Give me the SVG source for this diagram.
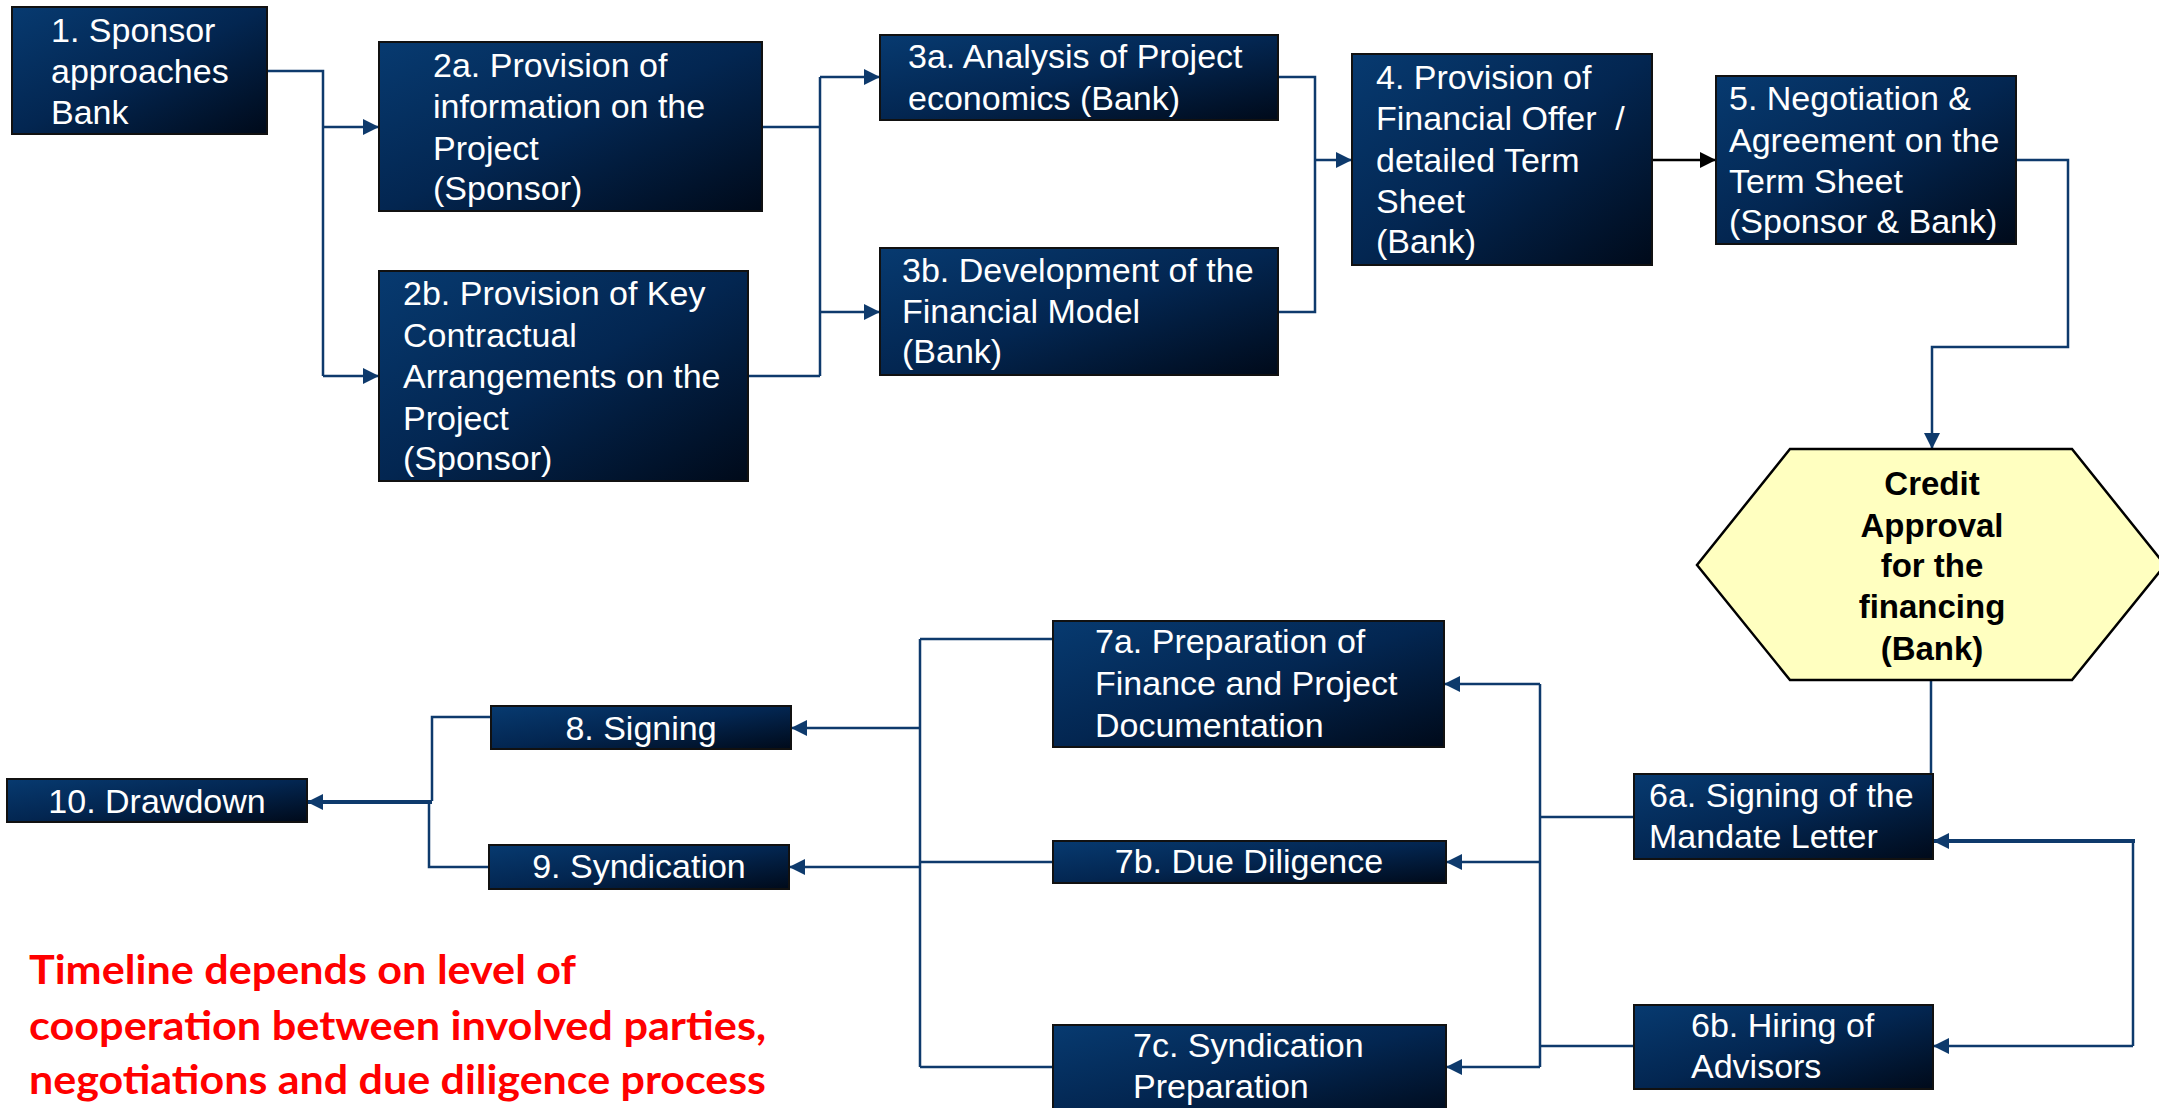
<svg xmlns="http://www.w3.org/2000/svg" width="2159" height="1108" viewBox="0 0 2159 1108">
<style>
.box{fill:url(#g);stroke:#111;stroke-width:2}
.t{font-family:"Liberation Sans",Arial,sans-serif;font-size:34px;fill:#fff;white-space:pre}
.c{text-anchor:middle}
.h{font-family:"Liberation Sans",Arial,sans-serif;font-size:33px;font-weight:bold;fill:#000;text-anchor:middle}
.ln{fill:none;stroke:#0e3a6c;stroke-width:2.5}
.thk{stroke-width:4}
.blk{fill:none;stroke:#000;stroke-width:2.5}
.red{font-family:Lato,"Open Sans",sans-serif;font-size:41px;font-weight:bold;fill:#f00}
</style>
<defs>
<linearGradient id="g" x1="0" y1="0" x2="1" y2="1">
<stop offset="0" stop-color="#073a70"/>
<stop offset="0.5" stop-color="#032651"/>
<stop offset="1" stop-color="#000a1a"/>
</linearGradient>
<marker id="a" markerUnits="userSpaceOnUse" markerWidth="18" markerHeight="18" refX="16" refY="8" orient="auto">
<path d="M0,0 L16,8 L0,16 z" fill="#0e3a6c"/>
</marker>
<marker id="ab" markerUnits="userSpaceOnUse" markerWidth="18" markerHeight="18" refX="16" refY="8" orient="auto">
<path d="M0,0 L16,8 L0,16 z" fill="#000"/>
</marker>
</defs>
<rect width="2159" height="1108" fill="#fff"/>
<g id="connectors">
<path class="ln" d="M267,71 H323 V376"/>
<path class="ln" d="M323,127 H379" marker-end="url(#a)"/>
<path class="ln" d="M323,376 H379" marker-end="url(#a)"/>
<path class="ln" d="M762,127 H820 M748,376 H820 M820,77 V376"/>
<path class="ln" d="M820,77 H880" marker-end="url(#a)"/>
<path class="ln" d="M820,312 H880" marker-end="url(#a)"/>
<path class="ln" d="M1278,77 H1315 V312 H1278"/>
<path class="ln" d="M1315,160 H1352" marker-end="url(#a)"/>
<path class="blk" d="M1652,160 H1716" marker-end="url(#ab)"/>
<path class="ln" d="M2016,160 H2068 V347 H1932 V449" marker-end="url(#a)"/>
<path class="ln" d="M1931,680 V774"/>
<path class="ln" d="M1634,817 H1540 M1634,1046 H1540 M1540,684 V1067"/>
<path class="ln" d="M1540,684 H1444" marker-end="url(#a)"/>
<path class="ln" d="M1540,862 H1446" marker-end="url(#a)"/>
<path class="ln" d="M1540,1067 H1446" marker-end="url(#a)"/>
<path class="ln" d="M2133,841 V1046"/>
<path class="ln thk" d="M2135,841 H1933" marker-end="url(#a)"/>
<path class="ln" d="M2133,1046 H1933" marker-end="url(#a)"/>
<path class="ln" d="M1053,639 H920 M1053,862 H920 M1053,1067 H920 M920,639 V1067"/>
<path class="ln" d="M920,728 H791" marker-end="url(#a)"/>
<path class="ln" d="M920,867 H789" marker-end="url(#a)"/>
<path class="ln" d="M491,717 H432 V801 M489,867 H429 V801"/>
<path class="ln thk" d="M432,802 H307" marker-end="url(#a)"/>
</g>
<g id="n1"><rect class="box" x="12" y="7" width="255" height="127"/>
<text class="t" x="51" y="42">1. Sponsor</text><text class="t" x="51" y="83">approaches</text><text class="t" x="51" y="124">Bank</text></g>
<g id="n2a"><rect class="box" x="379" y="42" width="383" height="169"/>
<text class="t" x="433" y="77">2a. Provision of</text><text class="t" x="433" y="118">information on the</text><text class="t" x="433" y="160">Project</text><text class="t" x="433" y="200">(Sponsor)</text></g>
<g id="n2b"><rect class="box" x="379" y="271" width="369" height="210"/>
<text class="t" x="403" y="305">2b. Provision of Key</text><text class="t" x="403" y="347">Contractual</text><text class="t" x="403" y="388">Arrangements on the</text><text class="t" x="403" y="430">Project</text><text class="t" x="403" y="470">(Sponsor)</text></g>
<g id="n3a"><rect class="box" x="880" y="35" width="398" height="85"/>
<text class="t" x="908" y="68">3a. Analysis of Project</text><text class="t" x="908" y="110">economics (Bank)</text></g>
<g id="n3b"><rect class="box" x="880" y="248" width="398" height="127"/>
<text class="t" x="902" y="282">3b. Development of the</text><text class="t" x="902" y="323">Financial Model</text><text class="t" x="902" y="363">(Bank)</text></g>
<g id="n4"><rect class="box" x="1352" y="54" width="300" height="211"/>
<text class="t" x="1376" y="89">4. Provision of</text><text class="t" x="1376" y="130">Financial Offer  /</text><text class="t" x="1376" y="172">detailed Term</text><text class="t" x="1376" y="213">Sheet</text><text class="t" x="1376" y="253">(Bank)</text></g>
<g id="n5"><rect class="box" x="1716" y="76" width="300" height="168"/>
<text class="t" x="1729" y="110">5. Negotiation &amp;</text><text class="t" x="1729" y="152">Agreement on the</text><text class="t" x="1729" y="193">Term Sheet</text><text class="t" x="1729" y="233">(Sponsor &amp; Bank)</text></g>
<g id="credit"><polygon points="1790,449 2072,449 2165,565 2072,680 1790,680 1697,565" fill="#ffffc0" stroke="#000" stroke-width="2.5"/>
<text class="h" x="1932" y="495">Credit</text><text class="h" x="1932" y="537">Approval</text><text class="h" x="1932" y="577">for the</text><text class="h" x="1932" y="618">financing</text><text class="h" x="1932" y="660">(Bank)</text></g>
<g id="n6a"><rect class="box" x="1634" y="774" width="299" height="85"/>
<text class="t" x="1649" y="807">6a. Signing of the</text><text class="t" x="1649" y="848">Mandate Letter</text></g>
<g id="n6b"><rect class="box" x="1634" y="1005" width="299" height="84"/>
<text class="t" x="1691" y="1037">6b. Hiring of</text><text class="t" x="1691" y="1078">Advisors</text></g>
<g id="n7a"><rect class="box" x="1053" y="621" width="391" height="126"/>
<text class="t" x="1095" y="653">7a. Preparation of</text><text class="t" x="1095" y="695">Finance and Project</text><text class="t" x="1095" y="737">Documentation</text></g>
<g id="n7b"><rect class="box" x="1053" y="841" width="393" height="42"/>
<text class="t c" x="1249" y="873">7b. Due Diligence</text></g>
<g id="n7c"><rect class="box" x="1053" y="1025" width="393" height="95"/>
<text class="t" x="1133" y="1057">7c. Syndication</text><text class="t" x="1133" y="1098">Preparation</text></g>
<g id="n8"><rect class="box" x="491" y="706" width="300" height="43"/>
<text class="t c" x="641" y="740">8. Signing</text></g>
<g id="n9"><rect class="box" x="489" y="845" width="300" height="44"/>
<text class="t c" x="639" y="878">9. Syndication</text></g>
<g id="n10"><rect class="box" x="7" y="779" width="300" height="43"/>
<text class="t c" x="157" y="813">10. Drawdown</text></g>
<g id="note">
<text class="red" x="29" y="984" textLength="547" lengthAdjust="spacingAndGlyphs">Timeline depends on level of</text>
<text class="red" x="29" y="1040" textLength="737" lengthAdjust="spacingAndGlyphs">cooperation between involved parties,</text>
<text class="red" x="29" y="1094" textLength="737" lengthAdjust="spacingAndGlyphs">negotiations and due diligence process</text>
</g>
</svg>
